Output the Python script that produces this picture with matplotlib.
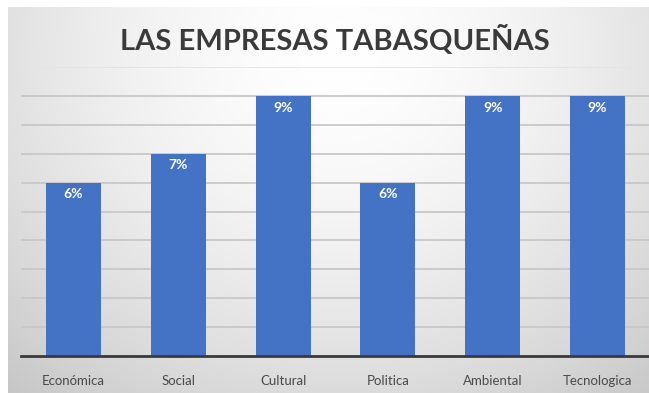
import numpy as np
import matplotlib
matplotlib.use("Agg")
import matplotlib.pyplot as plt

categorias = ["Económica", "Social", "Cultural", "Politica", "Ambiental", "Tecnologica"]
valores = [6, 7, 9, 6, 9, 9]
etiquetas = ["6%", "7%", "9%", "6%", "9%", "9%"]

W, H = 649, 393
fig = plt.figure(figsize=(W / 100, H / 100), dpi=100)
fig.patch.set_facecolor("white")

# Fondo con degradado radial (como en la captura)
bg = fig.add_axes([8 / W, 0, 1 - 8 / W, 1 - 7 / H])
yy, xx = np.mgrid[0:386, 0:641]
cx, cy = 330, 50
d = np.sqrt(((xx - cx) / 420.0) ** 2 + ((yy - cy) / 380.0) ** 2)
v = 1.0 - 0.17 * np.clip(d, 0, 1.2) ** 1.6
bg.imshow(np.dstack([v, v, v]), aspect="auto", extent=[0, 1, 0, 1], origin="upper")
bg.axis("off")

# Ejes del gráfico
left = 21 / W
right = 650 / W
bottom = 1 - 356 / H
top = 1 - 67 / H
ax = fig.add_axes([left, bottom, right - left, top - bottom])
ax.patch.set_alpha(0)

x = np.arange(len(categorias))
bars = ax.bar(x, valores, width=0.525, color="#4472C4", zorder=3)
for b, t in zip(bars, etiquetas):
    ax.text(b.get_x() + b.get_width() / 2, b.get_height() - 0.2, t,
            ha="center", va="top", color="white", fontsize=10,
            fontweight="bold", family="Lato")

ax.set_xlim(-0.5, len(categorias) - 0.5)
ax.set_ylim(0, 10)
ax.set_yticks(range(0, 10))
ax.yaxis.grid(True, color="#c8c8c8", linewidth=1.3, zorder=0)
ax.axhline(10, color="#e4e4e4", linewidth=1.3, zorder=0)
ax.tick_params(axis="y", left=False, labelleft=False)
ax.tick_params(axis="x", length=0, pad=14)
ax.set_xticks(x)
ax.set_xticklabels(categorias, fontsize=9.5, color="#4a4a4a", family="Lato")
for s in ["top", "right", "left"]:
    ax.spines[s].set_visible(False)
ax.spines["bottom"].set_color("#3a3a3a")
ax.spines["bottom"].set_linewidth(2)
ax.spines["bottom"].set_zorder(4)

fig.text(335 / W, 1 - 40 / H, "LAS EMPRESAS TABASQUEÑAS", ha="center", va="center",
         fontsize=21, fontweight="bold", color="#3a3a3a", family="Lato")

fig.savefig("out.png", dpi=100)
